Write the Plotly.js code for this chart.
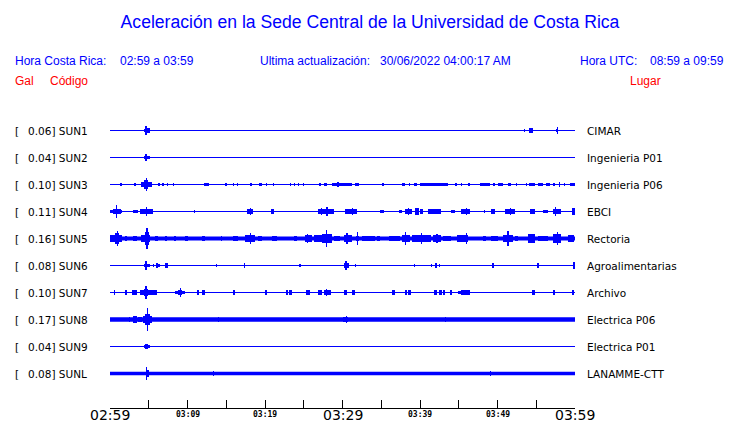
<!DOCTYPE html>
<html><head><meta charset="utf-8">
<script src="https://cdn.plot.ly/plotly-3.0.1.min.js"></script>
<style>html,body{margin:0;padding:0;background:#fff;}#chart{width:740px;height:423px;}</style>
</head><body><div id="chart"></div>
<script>
// ---- data ----
const tickMinutes = [0, 10, 20, 30, 40, 50, 60];
const tickLabels = ['02:59', '03:09', '03:19', '03:29', '03:39', '03:49', '03:59'];
const codes = ['SUN1', 'SUN2', 'SUN3', 'SUN4', 'SUN5', 'SUN6', 'SUN7', 'SUN8', 'SUN9', 'SUNL'];
const places = ['CIMAR', 'Ingenieria P01', 'Ingenieria P06', 'EBCI', 'Rectoria', 'Agroalimentarias', 'Archivo', 'Electrica P06', 'Electrica P01', 'LANAMME-CTT'];
const peakGal = ['0.06', '0.04', '0.10', '0.11', '0.16', '0.08', '0.10', '0.17', '0.04', '0.08'];
// continuous background level (gal, half amplitude)
const noiseGal = [0, 0, 0, 0, 0.027, 0, 0, 0.03, 0, 0.025];
// bursts: [minute after 02:59, half amplitude (gal), duration (min)]
const sun1 = [[4.4,0.02,0.15],[4.62,0.056,0.28],[4.98,0.028,0.45],[28.8,0.012,0.1],[42.1,0.01,0.1],[53.5,0.018,0.15],[54.35,0.032,0.5],[55.4,0.01,0.1],[57.7,0.02,0.3],[57.7,0.046,0.15]];
const sun2 = [[4.45,0.018,0.15],[4.62,0.047,0.25],[4.98,0.022,0.45],[30.7,0.01,0.1]];
const sun3 = [[0.77,0.015,0.1],[1.44,0.02,0.3],[1.94,0.015,0.1],[3.23,0.02,0.2],[4.7,0.035,1.4],[4.7,0.06,0.5],[4.68,0.095,0.18],[6.32,0.02,0.34],[6.88,0.02,0.26],[7.42,0.02,0.2],[8.17,0.015,0.1],[9.16,0.012,0.1],[10.54,0.012,0.1],[12.43,0.022,0.68],[13.03,0.015,0.1],[14.95,0.02,0.22],[15.91,0.015,0.1],[16.48,0.015,0.1],[18.16,0.022,0.26],[19.42,0.022,0.31],[20.2,0.015,0.12],[21.12,0.015,0.1],[22.19,0.02,0.12],[23.26,0.015,0.1],[23.83,0.015,0.1],[24.35,0.015,0.1],[25.0,0.015,0.1],[25.42,0.015,0.1],[26.06,0.02,0.12],[27.1,0.022,0.35],[27.8,0.022,0.43],[29.94,0.022,2.58],[29.42,0.032,0.15],[31.87,0.02,0.44],[35.2,0.015,0.22],[37.9,0.022,0.42],[38.65,0.02,0.21],[39.4,0.022,0.42],[40.2,0.022,0.5],[42.0,0.022,3.2],[44.65,0.02,0.35],[45.33,0.015,0.1],[46.3,0.02,0.22],[48.35,0.022,1.3],[49.53,0.02,0.2],[50.4,0.022,0.65],[51.57,0.02,0.43],[52.43,0.015,0.1],[53.72,0.015,0.1],[54.43,0.022,0.74],[55.55,0.02,0.64],[56.5,0.022,0.44],[57.3,0.02,0.3],[58.03,0.035,0.12],[58.67,0.015,0.1],[59.64,0.022,0.64]];
const sun4 = [[0.2,0.02,0.3],[0.9,0.035,1.0],[0.81,0.09,0.15],[1.4,0.02,0.25],[3.25,0.022,0.65],[4.73,0.03,1.7],[4.73,0.065,0.18],[4.4,0.04,0.3],[6.45,0.015,0.12],[9.81,0.012,0.1],[10.88,0.015,0.1],[14.32,0.015,0.1],[18.1,0.035,0.72],[18.15,0.05,0.2],[19.96,0.012,0.1],[21.0,0.03,0.35],[25.42,0.015,0.1],[27.85,0.04,2.0],[27.3,0.055,0.15],[28.0,0.06,0.15],[31.1,0.04,1.5],[31.3,0.05,0.15],[35.05,0.025,0.5],[37.5,0.025,0.45],[38.5,0.04,0.9],[38.5,0.055,0.15],[39.6,0.045,0.5],[40.2,0.035,0.5],[41.85,0.03,1.6],[44.25,0.02,0.5],[45.9,0.035,1.1],[46.0,0.05,0.15],[48.35,0.015,0.1],[49.4,0.04,0.6],[51.6,0.04,1.3],[51.7,0.055,0.15],[54.5,0.03,0.72],[56.2,0.025,0.65],[57.7,0.04,1.07],[57.5,0.06,0.15],[59.8,0.05,0.35]];
const sun5 = [[0.75,0.05,1.5],[0.99,0.11,0.18],[0.9,0.07,0.5],[2.05,0.035,0.25],[3.2,0.035,0.45],[4.6,0.05,1.1],[4.77,0.09,0.5],[4.77,0.15,0.18],[6.0,0.035,0.42],[7.2,0.035,0.25],[8.39,0.035,0.15],[9.9,0.04,0.42],[12.05,0.035,0.43],[14.41,0.035,0.15],[16.2,0.035,0.65],[18.05,0.045,1.3],[18.15,0.075,0.18],[19.35,0.04,0.43],[21.2,0.04,0.65],[23.9,0.035,0.43],[25.6,0.045,0.86],[25.5,0.065,0.15],[26.8,0.05,1.07],[28.0,0.06,1.3],[27.9,0.115,0.18],[29.3,0.04,0.86],[30.7,0.05,1.07],[30.58,0.075,0.15],[31.95,0.09,0.2],[31.95,0.04,0.4],[33.4,0.035,1.7],[34.65,0.035,0.43],[36.7,0.04,1.5],[38.2,0.05,1.07],[38.1,0.085,0.15],[39.75,0.05,1.55],[40.6,0.045,1.7],[40.17,0.07,0.15],[42.2,0.05,1.07],[42.19,0.065,0.15],[43.5,0.035,1.07],[45.5,0.05,1.38],[45.97,0.08,0.15],[48.35,0.035,0.42],[49.6,0.04,0.86],[51.35,0.055,1.3],[51.35,0.105,0.18],[52.45,0.035,0.43],[54.4,0.06,0.94],[55.9,0.04,1.3],[57.7,0.06,1.07],[57.72,0.085,0.15],[59.5,0.05,0.86]];
const sun6 = [[4.45,0.025,0.2],[4.68,0.065,0.22],[4.92,0.025,0.6],[5.59,0.015,0.12],[6.2,0.02,0.5],[6.06,0.038,0.18],[7.27,0.028,0.35],[12.94,0.012,0.1],[13.76,0.022,0.17],[17.33,0.028,0.12],[20.26,0.012,0.1],[24.55,0.02,0.26],[30.55,0.03,0.7],[30.45,0.065,0.22],[31.65,0.022,0.1],[39.26,0.022,0.1],[41.46,0.022,0.1],[42.06,0.028,0.18],[42.49,0.015,0.1],[46.49,0.012,0.1],[49.42,0.028,0.26],[53.03,0.022,0.1],[55.2,0.028,0.22],[59.85,0.05,0.22]];
const sun7 = [[0.55,0.028,0.1],[2.08,0.028,0.3],[3.2,0.028,0.65],[4.02,0.028,0.3],[5.1,0.028,1.86],[4.65,0.05,0.6],[4.68,0.09,0.2],[9.0,0.025,1.29],[9.07,0.04,0.5],[9.07,0.062,0.18],[11.33,0.028,0.3],[12.05,0.028,0.43],[16.0,0.028,0.2],[20.15,0.028,0.3],[22.8,0.028,0.3],[23.3,0.028,0.35],[25.57,0.028,0.55],[27.1,0.035,0.5],[28.06,0.03,0.98],[27.9,0.05,0.18],[30.37,0.028,0.35],[31.4,0.04,0.34],[36.6,0.028,0.43],[38.17,0.028,0.3],[38.62,0.04,0.35],[42.02,0.028,0.42],[42.62,0.028,0.43],[43.08,0.028,0.22],[44.0,0.028,0.34],[45.07,0.022,0.35],[45.87,0.028,1.08],[48.77,0.012,0.1],[54.62,0.028,0.35],[57.27,0.028,0.22],[58.67,0.012,0.1],[59.74,0.028,0.26]];
const sun8 = [[2.49,0.035,0.15],[3.22,0.042,0.45],[3.87,0.04,0.44],[4.8,0.045,1.16],[4.84,0.08,0.64],[4.86,0.165,0.2],[14.0,0.035,0.1],[30.4,0.038,0.65],[30.5,0.045,0.12],[41.68,0.032,0.1],[43.26,0.03,0.1]];
const sun9 = [[4.8,0.025,0.75],[4.72,0.038,0.35]];
const sunl = [[4.68,0.085,0.15],[4.82,0.055,0.43],[13.33,0.03,0.08],[49.12,0.03,0.08]];
const bursts = [sun1, sun2, sun3, sun4, sun5, sun6, sun7, sun8, sun9, sunl];

// ---- drawing ----
const W = 740, H = 423;
const BLUE = '#0000ff', RED = '#ff0000';
const rowTop = 130.5, rowStep = 27, rowHalf = 13.5, axisY = 408;
const galRange = 0.1875;

const traces = [];
const layout = {
  width: W, height: H, margin: {l: 0, r: 0, t: 0, b: 0},
  paper_bgcolor: '#fff', plot_bgcolor: 'rgba(0,0,0,0)',
  showlegend: false, barmode: 'overlay', bargap: 0,
  title: {text: 'Aceleración en la Sede Central de la Universidad de Costa Rica',
          font: {family: 'Liberation Sans, Arial, sans-serif', size: 17.6, color: BLUE},
          x: 0.5, xanchor: 'center', xref: 'paper', y: 1 - 22 / H, yanchor: 'middle', yref: 'container'},
  xaxis: {domain: [110 / W, 575 / W], range: [0, 60], anchor: 'free', position: (H - axisY) / H,
          showline: true, linecolor: '#000', linewidth: 1, ticks: 'inside', ticklen: 8, tickwidth: 1,
          tickcolor: '#000', tick0: 0, dtick: 5, showticklabels: false, showgrid: false,
          zeroline: false, fixedrange: true},
  annotations: []
};

function note(text, px, py, font, anchor) {
  return {text: text, xref: 'paper', yref: 'paper', x: px / W, y: 1 - py / H,
          xanchor: anchor || 'left', yanchor: 'middle', showarrow: false,
          borderpad: 0, borderwidth: 0, font: font};
}
const hdr = {family: 'Liberation Sans, Arial, sans-serif', size: 12, color: BLUE};
const hdrRed = {family: 'Liberation Sans, Arial, sans-serif', size: 12, color: RED};
const lab = {family: 'DejaVu Sans, sans-serif', size: 10.5, color: '#000'};

layout.annotations.push(
  note('Hora Costa Rica:', 15, 61, hdr), note('02:59 a 03:59', 120, 61, hdr),
  note('Ultima actualización:', 260, 61, hdr), note('30/06/2022 04:00:17 AM', 380, 61, hdr),
  note('Hora UTC:', 580, 61, hdr), note('08:59 a 09:59', 650, 61, hdr),
  note('Gal', 15, 81, hdrRed), note('Código', 50, 81, hdrRed), note('Lugar', 630, 81, hdrRed)
);

codes.forEach(function (code, i) {
  const c = rowTop + rowStep * i;
  const key = i === 0 ? 'yaxis' : 'yaxis' + (i + 1);
  const ya = i === 0 ? 'y' : 'y' + (i + 1);
  layout[key] = {domain: [(H - (c + rowHalf)) / H, (H - (c - rowHalf)) / H], range: [-galRange, galRange],
                 anchor: 'x', visible: false, fixedrange: true};
  traces.push({type: 'scatter', mode: 'lines', x: [0, 60], y: [0, 0], xaxis: 'x', yaxis: ya,
               line: {color: BLUE, width: 1}, hoverinfo: 'skip'});
  const n = noiseGal[i];
  if (n > 0) {
    traces.push({type: 'scatter', mode: 'lines', x: [0, 60, 60, 0], y: [n, n, -n, -n], fill: 'toself',
                 fillcolor: BLUE, line: {width: 0, color: BLUE}, xaxis: 'x', yaxis: ya, hoverinfo: 'skip'});
  }
  const b = bursts[i];
  traces.push({type: 'bar', x: b.map(r => r[0]), y: b.map(r => 2 * r[1]), base: b.map(r => -r[1]),
               width: b.map(r => r[2]), marker: {color: BLUE, line: {width: 0}},
               xaxis: 'x', yaxis: ya, hoverinfo: 'skip'});
  layout.annotations.push(note('[', 15, c, lab));
  layout.annotations.push(note(peakGal[i] + '] ' + code, 27.5, c, lab));
  layout.annotations.push(note(places[i], 587, c, lab));
});

tickMinutes.forEach(function (m, k) {
  const major = m % 30 === 0;
  layout.annotations.push({text: tickLabels[k], xref: 'x', yref: 'paper', x: m, y: 1 - (major ? 415 : 414) / H,
    xanchor: 'center', yanchor: 'middle', showarrow: false, borderpad: 0,
    font: major ? {family: 'DejaVu Sans, sans-serif', size: 14, color: '#000'}
                : {family: 'DejaVu Sans Mono, monospace', size: 8, color: '#000', weight: 'bold'}});
});

Plotly.newPlot('chart', traces, layout, {staticPlot: true, displayModeBar: false});
</script>
</body></html>
